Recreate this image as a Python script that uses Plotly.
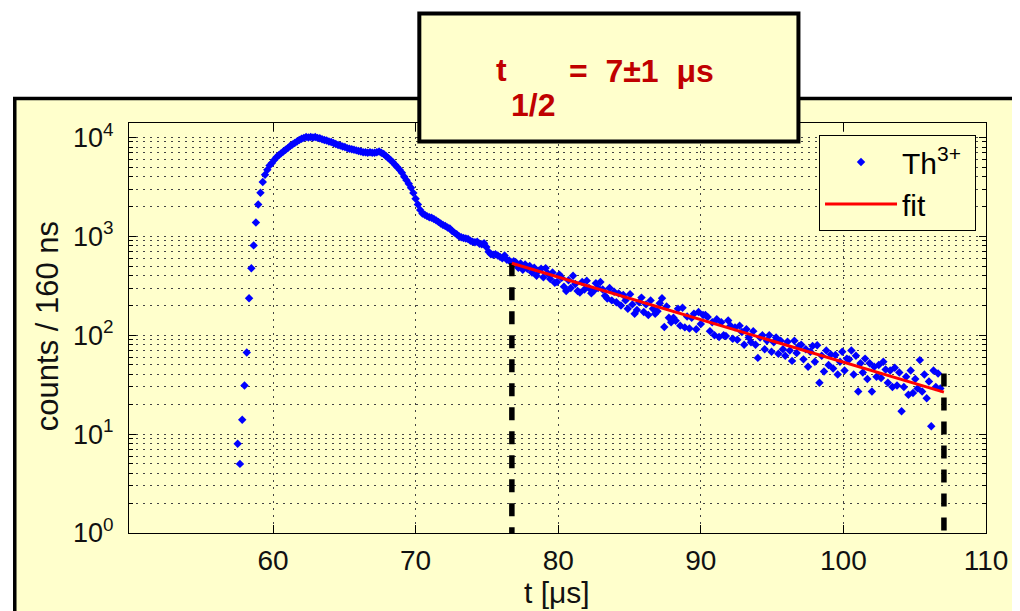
import plotly.graph_objects as go
import numpy as np

# ---------------- data ----------------
BIN_US = 0.16                      # 160 ns bins

rise_start = 57.52                 # first bin centre, µs
counts_rise = [
    8, 5, 14, 31, 67, 236, 475, 810, 1380, 2100,
    2760, 3540, 4200, 4700, 5200, 5500, 5900, 6300, 6600, 6900,
    7200, 7500, 7800, 8200, 8500, 8800, 9100, 9400, 9700, 9900,
    10100, 10000, 10100, 10000, 10100, 9900, 9800, 9600, 9400, 9300,
    9100, 9000, 8800, 8600, 8400, 8300, 8100, 8000, 7800, 7700,
    7600, 7500, 7400, 7300, 7200, 7100, 7100, 7000, 7100, 7000,
    7000, 7100, 7200, 7000, 6800, 6500, 6200, 5900, 5600, 5300,
    5000, 4700, 4400, 4000, 3700, 3400, 3100, 2750, 2400, 2100,
    1850, 1700, 1650, 1600, 1560, 1540, 1500, 1450, 1400, 1350,
    1300, 1270, 1230, 1200, 1130, 1090, 1050, 1000, 980, 960,
    950, 940, 900, 880, 870, 880, 840, 830, 850, 780,
    700, 660, 650, 660, 640, 620, 600, 640, 580, 570,
    545,
]

decay_start = 76.88
counts_decay = [
    560, 545, 480, 530, 460, 520, 470,
    500, 430, 480, 400, 450, 470, 385,
    477, 420, 370, 430, 340, 346, 410,
    380, 310, 280, 360, 300, 400, 330,
    280, 270, 345, 290, 355, 300, 265,
    280, 335, 300, 346, 290, 250, 235,
    300, 225, 275, 215, 265, 200, 255,
    225, 185, 260, 205, 165, 180, 215,
    240, 172, 205, 160, 225, 185, 165,
    175, 210, 236, 121, 195, 150, 135,
    150, 140, 185, 125, 190, 120, 155,
    117, 150, 165, 115, 172, 130, 160,
    160, 153, 110, 135, 100, 145, 96,
    135, 100, 98, 141, 125, 92, 120,
    90, 125, 108, 80, 115, 95, 85,
    110, 80, 59, 95, 100, 72, 88,
    100, 68, 85, 95, 65, 88, 72,
    62, 86, 70, 55, 88, 66, 78,
    80, 57, 72, 48, 68, 78, 54,
    79, 33, 62, 43, 70, 50, 64,
    46, 63, 40, 54, 68, 44, 58,
    57, 70, 40, 62, 27, 52, 42,
    58, 36, 52, 27, 48, 38, 50,
    37, 54, 45, 33, 44, 30, 47,
    31, 42, 17, 30, 38, 25, 44,
    26, 36, 29, 56, 27, 40, 23,
    34, 12, 44, 30, 41, 29,
]

# exponential fit: counts = fit_amp * 2^(-(t - fit_t0)/fit_half)
fit_amp = 530.0
fit_t0 = 76.83
fit_half = 7.0                     # t_1/2 in µs
fit_window = [76.75, 107.05]       # fit range (dashed markers)
window_tops = [None, 41]           # top of dashed marker lines (None -> fit value)

x_ticks = [60, 70, 80, 90, 100, 110]
decades = [0, 1, 2, 3, 4]

# ---------------- derived ----------------
t_rise = [rise_start + BIN_US * i for i in range(len(counts_rise))]
t_decay = [decay_start + BIN_US * i for i in range(len(counts_decay))]
t_all = t_rise + t_decay
c_all = counts_rise + counts_decay

fit_t = np.linspace(fit_window[0], fit_window[1], 60)
fit_c = fit_amp * 2.0 ** (-(fit_t - fit_t0) / fit_half)

def fit_at(t):
    return fit_amp * 2.0 ** (-(t - fit_t0) / fit_half)

y_major = [10 ** d for d in decades]
y_major_text = [f"10<sup>{d}</sup>" for d in decades]
y_minor = [m * 10 ** d for d in decades[:-1] for m in range(2, 10)]

YELLOW = "#FFFFCC"
DARKRED = "#C00000"
FONT = "Liberation Sans, Arial, sans-serif"

fig = go.Figure()

fig.add_trace(go.Scatter(
    x=t_all, y=c_all, mode="markers", name="Th<sup>3+</sup>&nbsp;",
    marker=dict(symbol="diamond", size=6.5, color="#0000FF", line=dict(width=0)),
))

for tx, top in zip(fit_window, window_tops):
    ytop = fit_at(tx) if top is None else top
    fig.add_trace(go.Scatter(
        x=[tx, tx], y=[ytop, 1], mode="lines", showlegend=False,
        line=dict(color="black", width=5.5, dash="13px,11px"),
        hoverinfo="skip",
    ))

fig.add_trace(go.Scatter(
    x=fit_t, y=fit_c, mode="lines", name="fit",
    line=dict(color="#FF0000", width=3),
))

# page is drawn with an 8 px body margin -> work in reference pixels minus OFF
OFF = 8
W, H = 1012, 603
L, R, T, B = 121, 32, 115, 78
pw, ph = W - L - R, H - T - B

def px(x_ref):
    return (x_ref - OFF - L) / pw

def py(y_ref):
    return (H - B - (y_ref - OFF)) / ph

GRIDC = "#444444"
GRIDDASH = "2px,5px"

fig.update_layout(
    width=W, height=H,
    margin=dict(l=L, r=R, t=T, b=B, pad=0),
    paper_bgcolor="white",
    plot_bgcolor="rgba(0,0,0,0)",
    font=dict(family=FONT, color="#111111"),
    showlegend=True,
    legend=dict(
        x=px(978), xanchor="right", y=py(135), yanchor="top",
        bgcolor=YELLOW, bordercolor="black", borderwidth=1,
        font=dict(size=30, family=FONT, color="black"),
        itemwidth=72, tracegroupgap=0,
    ),
    xaxis=dict(
        range=[49.9, 110], tickmode="array", tickvals=x_ticks,
        ticks="inside", ticklen=8, tickcolor="black",
        showline=True, linecolor="black", linewidth=1, mirror="ticks",
        showgrid=True, zeroline=False,
        gridcolor=GRIDC, griddash=GRIDDASH, gridwidth=1,
        tickfont=dict(size=28, family=FONT, color="#111111"),
        ticklabelstandoff=2,
    ),
    yaxis=dict(
        type="log", range=[0, 4.146], tickmode="array",
        tickvals=y_major, ticktext=y_major_text,
        ticks="inside", ticklen=7, tickcolor="black",
        showline=True, linecolor="black", linewidth=1, mirror="ticks",
        showgrid=True, zeroline=False,
        gridcolor=GRIDC, griddash=GRIDDASH, gridwidth=1,
        minor=dict(tickmode="array", tickvals=y_minor, ticks="inside",
                   ticklen=4, tickcolor="black", showgrid=True,
                   gridcolor=GRIDC, griddash=GRIDDASH, gridwidth=1),
        tickfont=dict(size=27, family=FONT, color="#111111"),
        ticklabelstandoff=9,
    ),
    shapes=[
        dict(type="rect", xref="paper", yref="paper",
             x0=px(14.5), x1=px(1040), y0=py(640), y1=py(98.5),
             fillcolor=YELLOW, line=dict(color="black", width=3.5),
             layer="below"),
        dict(type="rect", xref="paper", yref="paper",
             x0=px(420), x1=px(800), y0=py(141.5), y1=py(13.5),
             fillcolor=YELLOW, line=dict(color="black", width=4),
             layer="above"),
    ],
    annotations=[
        dict(text="t [μs]", xref="paper", yref="paper",
             x=px(558), y=py(592), xanchor="center", yanchor="middle",
             showarrow=False, font=dict(size=30, family=FONT, color="#111111")),
        dict(text="counts / 160 ns", xref="paper", yref="paper",
             x=px(47), y=py(326), xanchor="center", yanchor="middle",
             textangle=-90, showarrow=False,
             font=dict(size=31, family=FONT, color="#111111")),
        dict(text="<b>t</b>", xref="paper", yref="paper",
             x=px(502), y=py(70), xanchor="center", yanchor="middle",
             showarrow=False, font=dict(size=32, family=FONT, color=DARKRED)),
        dict(text="<b>=&nbsp;&nbsp;7±1&nbsp;&nbsp;μs</b>", xref="paper", yref="paper",
             x=px(643), y=py(71), xanchor="center", yanchor="middle",
             showarrow=False, font=dict(size=32, family=FONT, color=DARKRED)),
        dict(text="<b>1/2</b>", xref="paper", yref="paper",
             x=px(534), y=py(105), xanchor="center", yanchor="middle",
             showarrow=False, font=dict(size=32, family=FONT, color=DARKRED)),
    ],
)

fig.write_html("out.html")
